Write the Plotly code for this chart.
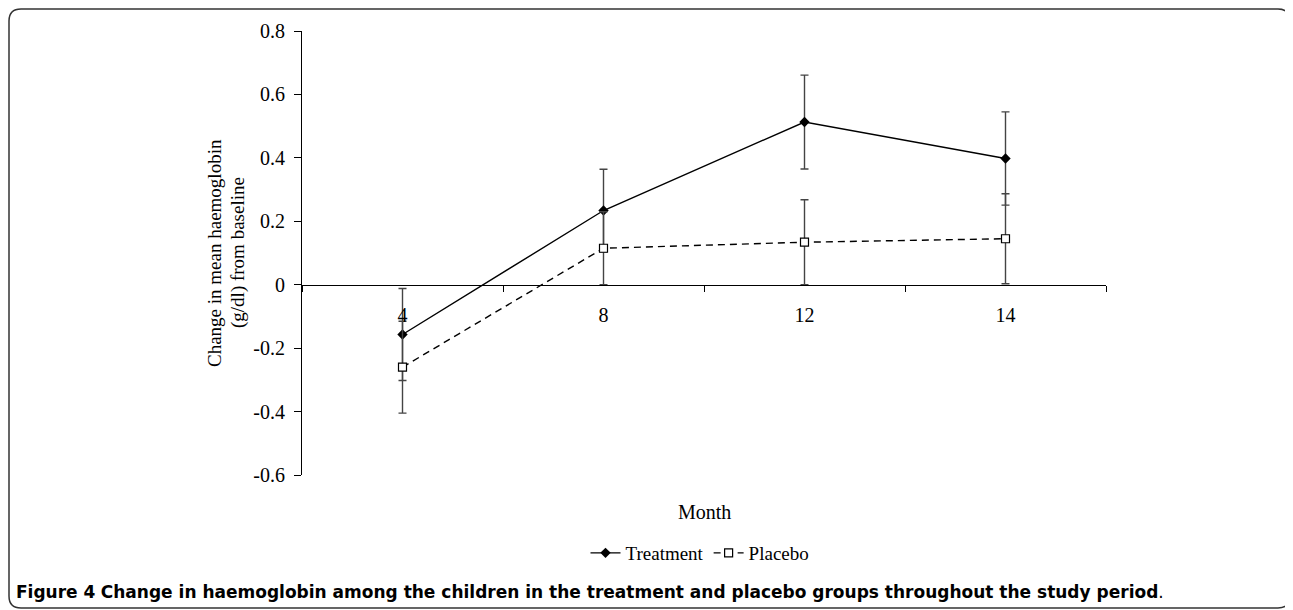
import plotly.graph_objects as go

months = ["4", "8", "12", "14"]
treatment = [-0.157, 0.234, 0.513, 0.398]
treatment_err = [0.145, 0.13, 0.148, 0.147]
placebo = [-0.26, 0.115, 0.134, 0.145]
placebo_err = [0.145, 0.115, 0.134, 0.142]

y_ticks = [-0.6, -0.4, -0.2, 0, 0.2, 0.4, 0.6, 0.8]
y_ticktext = ["-0.6", "-0.4", "-0.2", "0", "0.2", "0.4", "0.6", "0.8"]
y_range = [-0.6, 0.8]

# page body has an 8px margin; work in page pixels and convert
OFF = 8
W, H = 1293 - OFF, 610 - OFF
PL, PR, PT, PB = 302, 1106, 31, 475  # plot area in page pixels
ML, MR, MT, MB = PL - OFF, W - (PR - OFF), PT - OFF, H - (PB - OFF)
PW, PH = W - ML - MR, H - MT - MB

def px_x(px):
    return (px - PL) / PW

def px_y(py):
    return (PB - py) / PH

serif = "Liberation Serif"

fig = go.Figure()
fig.add_trace(go.Scatter(
    x=months, y=treatment, name="Treatment", mode="lines+markers",
    line=dict(color="black", width=1.4),
    marker=dict(symbol="diamond", size=8, color="black"),
    error_y=dict(type="data", array=treatment_err, color="#444444", thickness=1.4, width=4),
))
fig.add_trace(go.Scatter(
    x=months, y=placebo, name="Placebo", mode="lines+markers",
    line=dict(color="black", width=1.4, dash="7px,5px"),
    marker=dict(symbol="square", size=8, color="white", line=dict(color="black", width=1.2)),
    error_y=dict(type="data", array=placebo_err, color="#444444", thickness=1.4, width=4),
))

zero_pos = (0 - y_range[0]) / (y_range[1] - y_range[0])

# rounded frame (page pixels)
x0, x1, y0, y1, r = 9, 1290, 9, 608, 12
path = (
    f"M {px_x(x0+r)},{px_y(y0)} L {px_x(x1-r)},{px_y(y0)} "
    f"Q {px_x(x1)},{px_y(y0)} {px_x(x1)},{px_y(y0+r)} "
    f"L {px_x(x1)},{px_y(y1-r)} Q {px_x(x1)},{px_y(y1)} {px_x(x1-r)},{px_y(y1)} "
    f"L {px_x(x0+r)},{px_y(y1)} Q {px_x(x0)},{px_y(y1)} {px_x(x0)},{px_y(y1-r)} "
    f"L {px_x(x0)},{px_y(y0+r)} Q {px_x(x0)},{px_y(y0)} {px_x(x0+r)},{px_y(y0)} Z"
)

fig.update_layout(
    width=W, height=H,
    margin=dict(l=ML, r=MR, t=MT, b=MB),
    paper_bgcolor="white", plot_bgcolor="white",
    font=dict(family=serif, size=20, color="black"),
    showlegend=True,
    legend=dict(orientation="h", x=px_x(700), y=px_y(553), xanchor="center", yanchor="middle",
                font=dict(family=serif, size=19, color="black"), bgcolor="rgba(0,0,0,0)",
                tracegroupgap=0),
    xaxis=dict(type="category", range=[-0.5, 3.5], anchor="free", position=zero_pos,
               showline=True, linecolor="black", linewidth=1.2, ticks="outside", ticklen=6,
               tickcolor="black", tickson="boundaries", showgrid=False, zeroline=False,
               ticklabelstandoff=12,
               tickfont=dict(family=serif, size=20, color="black")),
    yaxis=dict(range=y_range, tickvals=y_ticks, ticktext=y_ticktext, showline=True,
               linecolor="black", linewidth=1.2, ticks="outside", ticklen=7, tickcolor="black",
               ticklabelstandoff=5,
               showgrid=False, zeroline=False, tickfont=dict(family=serif, size=20, color="black")),
    shapes=[dict(type="path", xref="paper", yref="paper", path=path,
                 line=dict(color="#333333", width=1.5), layer="below")],
    annotations=[
        dict(text="Change in mean haemoglobin", textangle=-90,
             xref="paper", yref="paper", x=px_x(214), y=px_y(253), xanchor="center", yanchor="middle",
             showarrow=False, font=dict(family=serif, size=19, color="black")),
        dict(text="(g/dl) from baseline", textangle=-90,
             xref="paper", yref="paper", x=px_x(238), y=px_y(253), xanchor="center", yanchor="middle",
             showarrow=False, font=dict(family=serif, size=19, color="black")),
        dict(text="Month", xref="paper", yref="paper", x=0.5, y=px_y(512),
             xanchor="center", yanchor="middle", showarrow=False,
             font=dict(family=serif, size=20, color="black")),
        dict(text="<b>Figure 4</b> <b>Change in haemoglobin among the children in the treatment and placebo groups throughout the study period</b>.",
             xref="paper", yref="paper", x=px_x(14), y=px_y(592), xanchor="left", yanchor="middle",
             showarrow=False, font=dict(family="DejaVu Sans", size=17, color="black")),
    ],
)

fig.write_html("out.html")
